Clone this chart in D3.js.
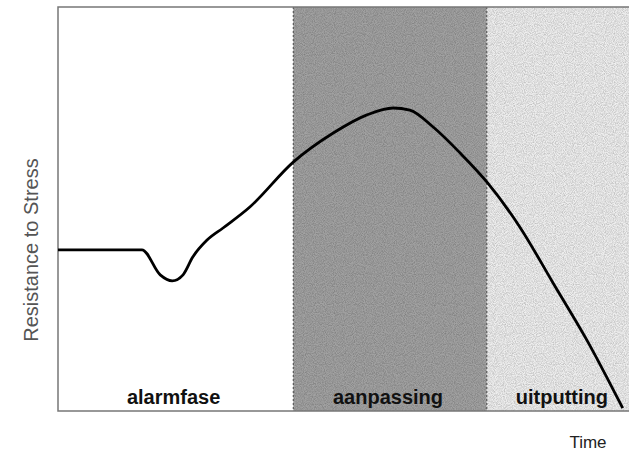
<!DOCTYPE html>
<html lang="en">
<head>
<meta charset="utf-8">
<title>Resistance to Stress</title>
<script src="https://cdn.jsdelivr.net/npm/d3@7"></script>
<style>
  body { margin: 0; background: #fff; }
  text { font-family: "Liberation Sans", Arial, sans-serif; }
</style>
</head>
<body>
<script>
// phases of the stress response (time units 0..100)
var phaseNames = ["alarmfase", "aanpassing", "uitputting"];
var phaseStart = [0, 41.2, 75.1];
var phaseEnd = [41.2, 75.1, 100];
var phaseFill = ["#ffffff", "#a2a2a2", "#efefef"];

// resistance curve
var curveTime = [0, 14.7, 17.9, 20.0, 21.9, 23.6, 26.1, 28.9, 33.6, 41.2, 48.2, 54.1, 58.7, 61.6, 65.7, 70.4, 75.1, 80.9, 86.7, 92.6, 98.9];
var curveRes  = [39.9, 39.9, 33.7, 32.2, 33.7, 38.1, 42.3, 45.3, 50.5, 61.6, 68.8, 73.3, 75.0, 74.5, 70.3, 63.9, 56.7, 45.5, 31.7, 17.6, 0.7];

var w = 629, h = 453;
var padLeft = 58, padTop = 7, padRight = 629, padBottom = 411;

var svg = d3.select("body").append("svg")
  .attr("width", w)
  .attr("height", h);

// grainy texture like the scanned screen
var defs = svg.append("defs");
var f = defs.append("filter").attr("id", "grain")
  .attr("x", 0).attr("y", 0).attr("width", 1).attr("height", 1);
f.append("feTurbulence").attr("type", "fractalNoise")
  .attr("baseFrequency", 1.1).attr("numOctaves", 1).attr("seed", 3).attr("result", "noise");
f.append("feColorMatrix").attr("in", "noise").attr("type", "matrix")
  .attr("values", "0 0 0 0 0  0 0 0 0 0  0 0 0 0 0  0 0 0 0.8 -0.25")
  .attr("result", "dots");
f.append("feComposite").attr("in", "dots").attr("in2", "SourceGraphic")
  .attr("operator", "atop");

var x = d3.scaleLinear().domain([0, 100]).range([padLeft, padRight]);
var y = d3.scaleLinear().domain([0, 100]).range([padBottom, padTop]);

var phases = phaseNames.map(function(n, i) {
  return { name: n, start: phaseStart[i], end: phaseEnd[i], fill: phaseFill[i] };
});

svg.selectAll("rect.phase")
  .data(phases)
  .enter().append("rect")
  .attr("class", "phase")
  .attr("x", function(d) { return x(d.start); })
  .attr("y", y(100))
  .attr("width", function(d) { return x(d.end) - x(d.start); })
  .attr("height", y(0) - y(100))
  .attr("fill", function(d) { return d.fill; })
  .attr("filter", function(d, i) { return i > 0 ? "url(#grain)" : null; });

// dotted phase borders
svg.selectAll("line.sep")
  .data(phaseStart.slice(1))
  .enter().append("line")
  .attr("x1", function(d) { return x(d); })
  .attr("x2", function(d) { return x(d); })
  .attr("y1", y(100))
  .attr("y2", y(0))
  .attr("stroke", "#444")
  .attr("stroke-width", 1)
  .attr("stroke-dasharray", "2,2");

// frame: left, top and bottom
svg.append("path")
  .attr("d", "M" + x(100) + "," + y(100) + "H" + x(0) + "V" + y(0) + "H" + x(100))
  .attr("fill", "none")
  .attr("stroke", "#777")
  .attr("stroke-width", 1.5);

// phase labels
svg.selectAll("text.phase")
  .data(phases)
  .enter().append("text")
  .attr("class", "phase")
  .attr("x", function(d) { return x((d.start + d.end) / 2) + (d.name == "uitputting" ? 4 : -2); })
  .attr("y", y(0) - 7)
  .attr("text-anchor", "middle")
  .attr("font-size", 20)
  .attr("font-weight", "bold")
  .attr("fill", "#111")
  .text(function(d) { return d.name; });

// curve
var pts = curveTime.map(function(t, i) { return [t, curveRes[i]]; });
var line = d3.line()
  .x(function(d) { return x(d[0]); })
  .y(function(d) { return y(d[1]); })
  .curve(d3.curveMonotoneX);

svg.append("path")
  .datum(pts)
  .attr("d", line)
  .attr("fill", "none")
  .attr("stroke", "#000")
  .attr("stroke-width", 2.8)
  .attr("stroke-linejoin", "round");

// axis titles
svg.append("text")
  .attr("transform", "translate(38,250) rotate(-90)")
  .attr("text-anchor", "middle")
  .attr("font-size", 20)
  .attr("fill", "#555")
  .text("Resistance to Stress");

svg.append("text")
  .attr("x", 588)
  .attr("y", 448)
  .attr("text-anchor", "middle")
  .attr("font-size", 17)
  .attr("fill", "#222")
  .text("Time");
</script>
</body>
</html>
